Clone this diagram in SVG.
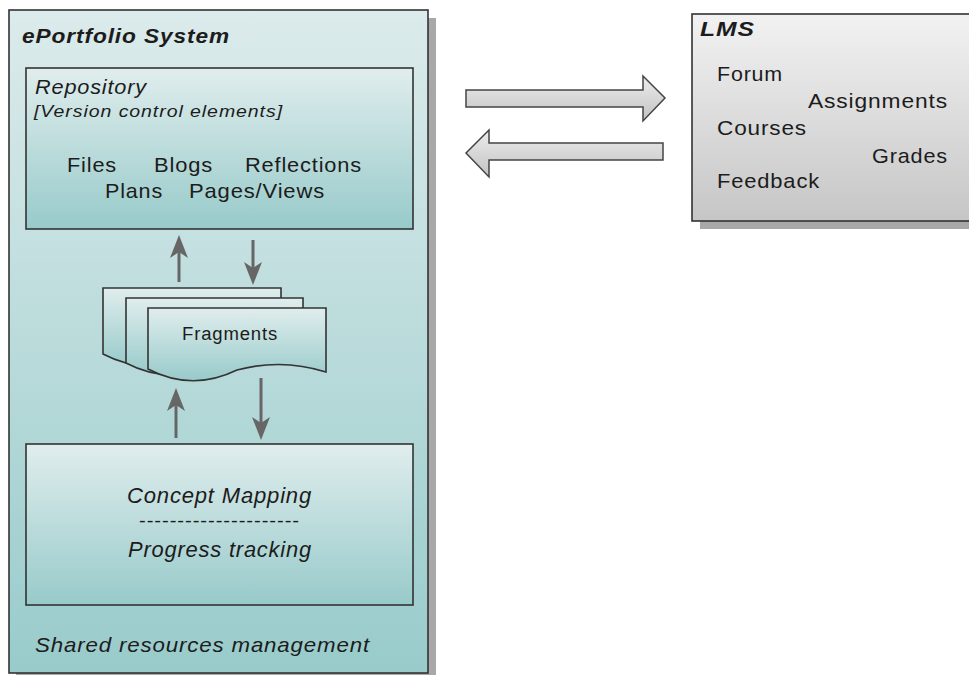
<svg xmlns="http://www.w3.org/2000/svg" xmlns:xlink="http://www.w3.org/1999/xlink" width="969" height="675" viewBox="0 0 969 675">
<style>
  text { font-family: "Liberation Sans", Arial, sans-serif; fill: #1c1c1c; letter-spacing: 0.8px; }
  .t { font-size: 21px; }
  .ti { font-size: 21px; font-style: italic; }
  .tb { font-size: 20px; font-style: italic; font-weight: bold; }
  .box { stroke: #333; stroke-width: 1.6; }
  .shadow { fill: #a8a8a8; }
  .small-shaft { stroke: #666; stroke-width: 3; fill: none; }
  .head { fill: #666; }
  .block { fill: url(#grayArrow); stroke: #444; stroke-width: 1.5; stroke-linejoin: miter; }
</style>
<defs>
  <linearGradient id="teal" x1="0" y1="0" x2="0" y2="1">
    <stop offset="0" stop-color="#e0eded"/>
    <stop offset="1" stop-color="#98caca"/>
  </linearGradient>
  <linearGradient id="tealOuter" x1="0" y1="0" x2="0" y2="1">
    <stop offset="0" stop-color="#dcebeb"/>
    <stop offset="1" stop-color="#99cbcb"/>
  </linearGradient>
  <linearGradient id="gray" x1="0" y1="0" x2="0" y2="1">
    <stop offset="0" stop-color="#f2f2f2"/>
    <stop offset="1" stop-color="#c6c6c6"/>
  </linearGradient>
  <linearGradient id="grayArrow" x1="0" y1="0" x2="0" y2="1">
    <stop offset="0" stop-color="#ececec"/>
    <stop offset="1" stop-color="#c2c2c2"/>
  </linearGradient>
  <path id="ah" d="M0,0 L-9,23 L0,17 L9,23 Z"/>
</defs>

<g id="eportfolio">
  <rect class="shadow" x="16" y="18" width="420" height="670"/>
  <rect class="box" x="9" y="10" width="419" height="663" fill="url(#tealOuter)" stroke-width="2"/>
  <text class="tb" x="22" y="43" textLength="208" lengthAdjust="spacingAndGlyphs">ePortfolio System</text>
  <text class="ti" x="35" y="652" textLength="335" lengthAdjust="spacingAndGlyphs">Shared resources management</text>
</g>

<g id="repository">
  <rect class="box" x="26" y="68" width="387" height="161" fill="url(#teal)"/>
  <text class="ti" x="35" y="94" textLength="112" lengthAdjust="spacingAndGlyphs">Repository</text>
  <text class="ti" x="34" y="117" style="font-size:16.5px" textLength="249" lengthAdjust="spacingAndGlyphs">[Version control elements]</text>
  <text class="t" x="67" y="172" textLength="50" lengthAdjust="spacingAndGlyphs">Files</text>
  <text class="t" x="154" y="172" textLength="59" lengthAdjust="spacingAndGlyphs">Blogs</text>
  <text class="t" x="245" y="172" textLength="117" lengthAdjust="spacingAndGlyphs">Reflections</text>
  <text class="t" x="105" y="198" textLength="58" lengthAdjust="spacingAndGlyphs">Plans</text>
  <text class="t" x="189" y="198" textLength="136" lengthAdjust="spacingAndGlyphs">Pages/Views</text>
</g>

<g id="fragments">
  <path class="box" fill="url(#teal)" d="M103,288 H281 V357 Q237,343 192,355 Q147,377 103,354 Z"/>
  <path class="box" fill="url(#teal)" d="M126,298 H303 V366 Q260,352 215,364 Q170,386 126,363 Z"/>
  <path class="box" fill="url(#teal)" d="M148,308 H326 V372 Q282,358 237,370 Q192,392 148,369 Z"/>
  <text class="t" x="182" y="340" style="font-size:18px" textLength="96" lengthAdjust="spacingAndGlyphs">Fragments</text>
</g>

<g id="concept">
  <rect class="box" x="26" y="444" width="387" height="161" fill="url(#teal)"/>
  <text class="ti" x="127" y="503" style="font-size:22px" textLength="185" lengthAdjust="spacingAndGlyphs">Concept Mapping</text>
  <text class="t" x="139" y="527" style="font-size:18px" textLength="161" lengthAdjust="spacingAndGlyphs">---------------------</text>
  <text class="ti" x="128" y="557" style="font-size:22px" textLength="184" lengthAdjust="spacingAndGlyphs">Progress tracking</text>
</g>

<g id="lms">
  <rect class="shadow" x="700" y="22" width="290" height="207"/>
  <rect class="box" x="692" y="14" width="290" height="207" fill="url(#gray)"/>
  <text class="tb" x="700" y="36" textLength="55" lengthAdjust="spacingAndGlyphs">LMS</text>
  <text class="t" x="717" y="81" textLength="66" lengthAdjust="spacingAndGlyphs">Forum</text>
  <text class="t" x="808" y="108" textLength="140" lengthAdjust="spacingAndGlyphs">Assignments</text>
  <text class="t" x="717" y="135" textLength="90" lengthAdjust="spacingAndGlyphs">Courses</text>
  <text class="t" x="872" y="163" textLength="76" lengthAdjust="spacingAndGlyphs">Grades</text>
  <text class="t" x="717" y="188" textLength="103" lengthAdjust="spacingAndGlyphs">Feedback</text>
</g>

<g id="connectors">
  <line class="small-shaft" x1="179" y1="282" x2="179" y2="250"/>
  <use href="#ah" class="head" transform="translate(179,235)"/>
  <line class="small-shaft" x1="253" y1="240" x2="253" y2="270"/>
  <use href="#ah" class="head" transform="translate(253,285) rotate(180)"/>
  <line class="small-shaft" x1="176" y1="438" x2="176" y2="403"/>
  <use href="#ah" class="head" transform="translate(176,388)"/>
  <line class="small-shaft" x1="261" y1="378" x2="261" y2="425"/>
  <use href="#ah" class="head" transform="translate(261,440) rotate(180)"/>
  <path class="block" d="M466,90 H643 V76 L665,98 L643,121 V107 H466 Z"/>
  <path class="block" d="M663,143 H489 V130 L466,153 L489,177 V160 H663 Z"/>
</g>
</svg>
